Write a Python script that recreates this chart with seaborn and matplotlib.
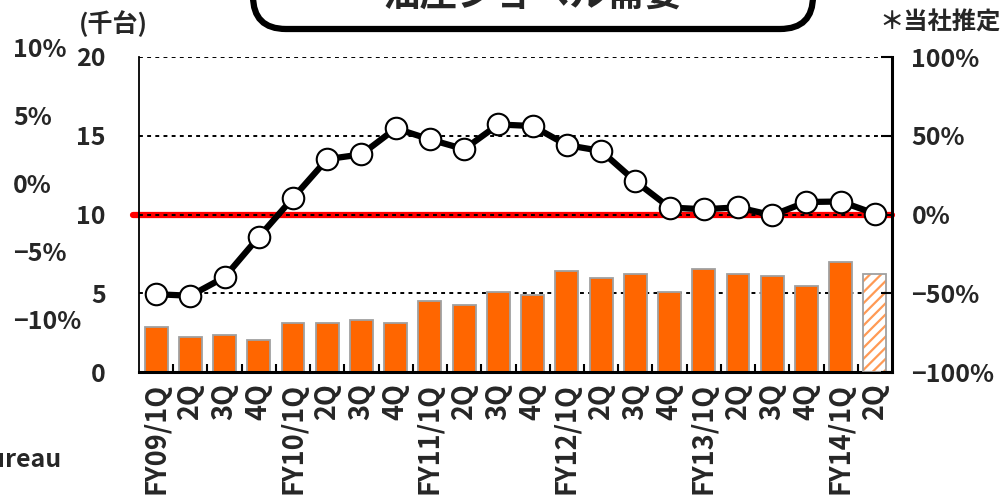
import matplotlib
matplotlib.use("Agg")
import matplotlib.pyplot as plt
import seaborn as sns
import pandas as pd
import numpy as np
from matplotlib.patches import FancyBboxPatch, Rectangle

sns.set_theme(style="white")
plt.rcParams["font.family"] = ["Noto Sans CJK JP", "DejaVu Sans"]
plt.rcParams["font.weight"] = "bold"
plt.rcParams["hatch.linewidth"] = 1.6

# ---------------- data ----------------
periods = ["FY09/1Q", "FY09/2Q", "FY09/3Q", "FY09/4Q",
           "FY10/1Q", "FY10/2Q", "FY10/3Q", "FY10/4Q",
           "FY11/1Q", "FY11/2Q", "FY11/3Q", "FY11/4Q",
           "FY12/1Q", "FY12/2Q", "FY12/3Q", "FY12/4Q",
           "FY13/1Q", "FY13/2Q", "FY13/3Q", "FY13/4Q",
           "FY14/1Q", "FY14/2Q"]
tick_labels = ["FY09/1Q", "2Q", "3Q", "4Q",
               "FY10/1Q", "2Q", "3Q", "4Q",
               "FY11/1Q", "2Q", "3Q", "4Q",
               "FY12/1Q", "2Q", "3Q", "4Q",
               "FY13/1Q", "2Q", "3Q", "4Q",
               "FY14/1Q", "2Q"]
demand = [2.85, 2.25, 2.38, 2.02, 3.10, 3.10, 3.33, 3.10,
          4.51, 4.28, 5.10, 4.88, 6.44, 5.95, 6.21, 5.10,
          6.53, 6.21, 6.08, 5.49, 7.01, 6.21]
yoy = [-50.5, -51.5, -39.7, -14.2, 10.6, 35.2, 38.2, 54.7,
       47.7, 41.5, 57.2, 56.2, 44.1, 40.4, 21.2, 4.5,
       3.4, 4.6, -0.4, 8.0, 8.3, 0.6]
left_ticks = [0, 5, 10, 15, 20]
right_ticks = [-100, -50, 0, 50, 100]
right_labels = ["−100%", "−50%", "0%", "50%", "100%"]
outer_labels = ["10%", "5%", "0%", "−5%", "−10%"]

title = "油圧ショベル需要"
unit_label = "(千台)"
note = "＊当社推定"
source_tail = "Bureau"

df = pd.DataFrame({"period": periods, "demand": demand, "yoy": yoy})

W, H = 1007, 496
fig = plt.figure(figsize=(W / 100, H / 100), dpi=100)
x0, x1, ytop, ybot = 139, 892, 57, 372.2
ax = fig.add_axes([x0 / W, 1 - ybot / H, (x1 - x0) / W, (ybot - ytop) / H])

orange = "#FF6600"
gray = "#A0A0A0"
FS = 18

sns.barplot(data=df, x="period", y="demand", order=periods, color=orange,
            saturation=1, width=0.67, edgecolor=gray, linewidth=1.3, ax=ax)

# last bar is an estimate: hatched
last = ax.patches[len(periods) - 1]
last.set_facecolor("white")
last.set_edgecolor("#FF9A55")
last.set_hatch("///")
last.set_linewidth(0)
ax.add_patch(Rectangle(last.get_xy(), last.get_width(), last.get_height(),
                       fill=False, edgecolor=gray, linewidth=1.3, zorder=3))

ax.set_xlim(-0.5, len(periods) - 0.5)
ax.set_ylim(0, 20)
ax.set_yticks(left_ticks)
ax.set_yticklabels([str(t) for t in left_ticks])
ax.set_axisbelow(True)
ax.yaxis.grid(True, linestyle=(0, (2, 2.2)), color="black", linewidth=1.4)
ax.xaxis.grid(False)
ax.axhline(10, xmin=-0.008, xmax=1.0, color="#FF0000", linewidth=4.5,
           clip_on=False, zorder=0.4)

ax.set_xticks(range(len(periods)))
ax.set_xticklabels(tick_labels, rotation=90, va="top", ha="center")
ax.set_xticks(np.arange(0.5, len(periods) - 1, 1), minor=True)
ax.tick_params(axis="x", which="major", length=0, pad=8, labelsize=19.5)
ax.tick_params(axis="x", which="minor", direction="in", length=6, width=1.5,
               bottom=True, color="black")
ax.tick_params(axis="y", length=0, pad=24, labelsize=FS)
ax.set_xlabel("")
ax.set_ylabel("")

for s in ["top", "right"]:
    ax.spines[s].set_visible(False)
ax.spines["left"].set_color("black")
ax.spines["left"].set_linewidth(1.3)
ax.spines["bottom"].set_color("black")
ax.spines["bottom"].set_linewidth(2.2)

ax2 = ax.twinx()
sns.lineplot(x=np.arange(len(periods)), y=yoy, ax=ax2, color="black",
             linewidth=4.5, marker="o", markersize=15.5,
             markerfacecolor="white", markeredgecolor="black",
             markeredgewidth=1.5, zorder=5)
ax2.set_ylim(-100, 100)
ax2.set_xlim(-0.5, len(periods) - 0.5)
ax2.set_yticks(right_ticks)
ax2.set_yticklabels(right_labels)
ax2.tick_params(axis="y", direction="in", length=8, width=1.5, pad=14,
                labelsize=FS, right=True, color="black")
ax2.set_ylabel("")
for s in ["top", "left", "bottom"]:
    ax2.spines[s].set_visible(False)
ax2.spines["right"].set_color("black")
ax2.spines["right"].set_linewidth(2.2)

# left-most secondary labels
for i, lab in enumerate(outer_labels):
    fig.text(13 / W, 1 - (50 + 68 * i) / H, lab, ha="left", va="center",
             fontsize=FS, fontweight="bold")

# title box (cut off at the top)
box = FancyBboxPatch((2.53, 4.67), 5.60, 1.2,
                     boxstyle="round,pad=0,rounding_size=0.33",
                     transform=fig.dpi_scale_trans, facecolor="white",
                     edgecolor="black", linewidth=4.5, clip_on=False)
fig.patches.append(box)
fig.text(533 / W, 1 - 7 / H, title, ha="center", va="baseline",
         fontsize=27, fontweight="bold")

fig.text(113 / W, 1 - 24 / H, unit_label, ha="center", va="center",
         fontsize=18, fontweight="bold")
fig.text(940 / W, 1 - 23 / H, note, ha="center", va="center",
         fontsize=17.5, fontweight="bold")
fig.text(62 / W, 1 - 460 / H, source_tail, ha="right", va="center",
         fontsize=18, fontweight="bold")

fig.savefig("out.png", dpi=100, facecolor="white")
